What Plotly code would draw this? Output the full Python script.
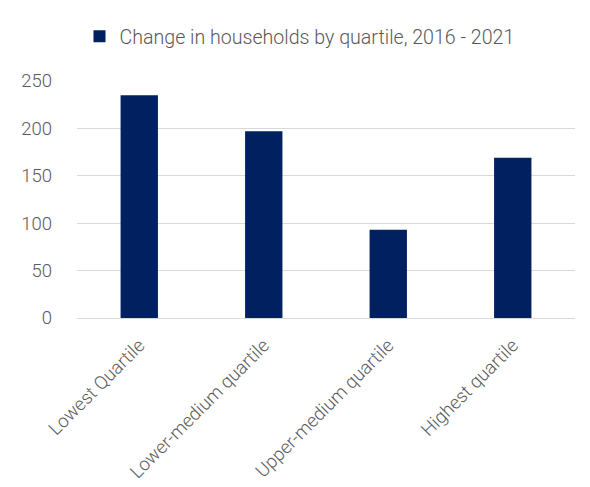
import plotly.graph_objects as go

categories = ["Lowest Quartile", "Lower-medium quartile", "Upper-medium quartile", "Highest quartile"]
values = [235, 197, 93, 169]
series_name = "Change in households by quartile, 2016 - 2021"
y_ticks = [0, 50, 100, 150, 200, 250]

fig = go.Figure()
fig.add_trace(go.Bar(
    x=categories, y=values, name=series_name,
    marker=dict(color="#002060", line=dict(width=0)),
    width=0.3, showlegend=True,
))

fig.update_layout(
    width=590, height=487,
    margin=dict(l=77, r=15, t=81, b=169),
    paper_bgcolor="white", plot_bgcolor="white",
    font=dict(family="Roboto", size=18.5, color="#595959", weight=300),
    legend=dict(orientation="h", x=0.005, xanchor="left", y=0.965, yanchor="top",
                yref="container", font=dict(size=19.6, color="#595959")),
    xaxis=dict(tickangle=-45, showgrid=False, showline=False, ticks="",
               ticklabelstandoff=12, automargin=False,
               tickfont=dict(size=18.5, color="#595959")),
    yaxis=dict(range=[0, 250], tickvals=y_ticks, showgrid=True, gridcolor="#d9d9d9",
               gridwidth=1, zeroline=True, zerolinecolor="#d9d9d9", zerolinewidth=1,
               showline=False, ticks="", ticklabelstandoff=24, automargin=False,
               tickfont=dict(size=18.5, color="#595959")),
)

fig.write_html("out.html")
